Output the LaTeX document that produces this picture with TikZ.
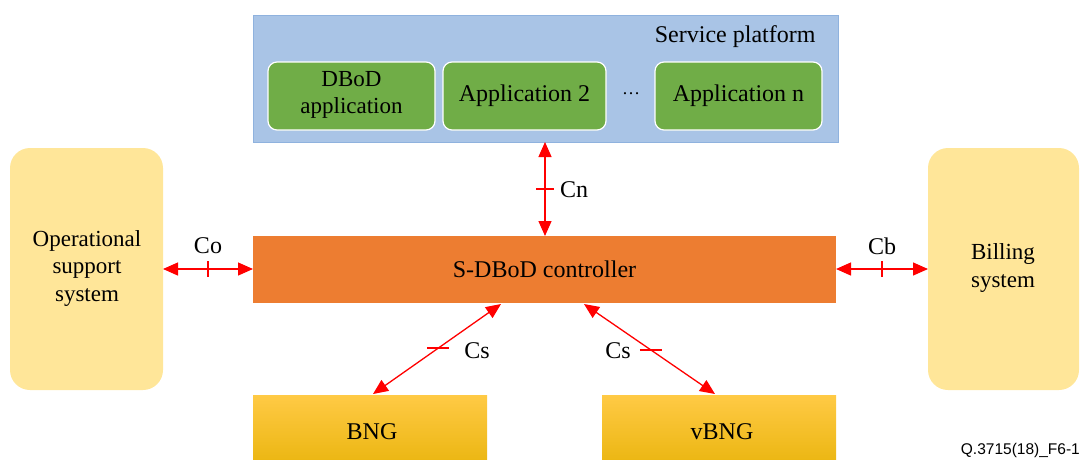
\documentclass[tikz,border=0pt]{standalone}
\usepackage{fontspec}
\setmainfont{Liberation Serif}
\usetikzlibrary{arrows.meta,calc}
\definecolor{spfill}{HTML}{A9C4E6}
\definecolor{spdraw}{HTML}{8FB2DE}
\definecolor{appgreen}{HTML}{70AD47}
\definecolor{ctrlorange}{HTML}{ED7D31}
\definecolor{sideyellow}{HTML}{FFE699}
\definecolor{bngtop}{HTML}{FFCA45}
\definecolor{bngbot}{HTML}{E9B40C}
\definecolor{linkred}{HTML}{FF0000}
\tikzset{
  x=1pt,y=-1pt,
  txt/.style={font=\fontsize{24}{28}\selectfont, align=center, text=black},
  appbox/.style={draw=white, line width=1.2pt, fill=appgreen, rounded corners=9pt, inner sep=0pt},
  sidebox/.style={fill=sideyellow, rounded corners=20pt, inner sep=0pt},
  bngbox/.style={top color=bngtop, bottom color=bngbot, inner sep=0pt},
  link/.style={draw=linkred, line width=1.3pt, {Triangle[length=15pt,width=13pt]}-{Triangle[length=15pt,width=13pt]}},
  tick/.style={draw=linkred, line width=1.3pt},
}
\begin{document}
\begin{tikzpicture}
\useasboundingbox (0,0) rectangle (1081,459);
% service platform
\draw[draw=spdraw, fill=spfill, line width=1pt] (253,15) rectangle (838,142);
\coordinate (spS) at (545,142);
\node[txt, anchor=east] (sptitle) at (819,37) {Service platform};
\path[appbox] (268,62) rectangle (435,130);
\node[txt, font=\fontsize{23}{26.5}\selectfont] (app1) at (351.5,95) {DBoD\\application};
\path[appbox] (443,62) rectangle (606,130);
\node[txt] (app2) at (524.5,96) {Application 2};
\node[txt] (dots) at (631,94) {\fontsize{18}{20}\selectfont\ldots};
\path[appbox] (655,62) rectangle (822,130);
\node[txt] (appn) at (738.5,96) {Application n};
% controller
\fill[ctrlorange] (253,236) rectangle (836,303);
\node[txt] (ctrl) at (544.5,269.5) {S-DBoD controller};
\coordinate (ctrlN) at (545,236);
\coordinate (ctrlW) at (253,269);
\coordinate (ctrlE) at (836,269);
\coordinate (ctrlSL) at (501,304);
\coordinate (ctrlSR) at (584,304);
% side boxes
\path[sidebox] (10,148) rectangle (163,390);
\node[txt, align=center, font=\fontsize{23}{27.5}\selectfont] (oss) at (87,268) {Operational\\support\\system};
\coordinate (ossE) at (163,269);
\path[sidebox] (928,148) rectangle (1079,390);
\node[txt, font=\fontsize{23}{27.5}\selectfont] (bill) at (1003,268) {Billing\\system};
\coordinate (billW) at (928,269);
% BNG boxes
\path[bngbox] (253,395) rectangle (487,470);
\node[txt] (bng) at (372,432) {BNG};
\coordinate (bngN) at (373,394);
\path[bngbox] (602,395) rectangle (836,470);
\node[txt] (vbng) at (722,432) {vBNG};
\coordinate (vbngN) at (715,394);
% links
\draw[link] (spS) -- coordinate[pos=0.5] (tn) (ctrlN);
\draw[tick] ($(tn)+(-9,0)$) -- ($(tn)+(9,0)$);
\node[txt] (cn) at (574,190) {Cn};
\draw[link] (ossE) -- coordinate[pos=0.5] (to) (ctrlW);
\draw[tick] ($(to)+(0,-8)$) -- ($(to)+(0,8)$);
\node[txt] (co) at (208,246) {Co};
\draw[link] (ctrlE) -- coordinate[pos=0.5] (tb) (billW);
\draw[tick] ($(tb)+(0,-8)$) -- ($(tb)+(0,8)$);
\node[txt] (cb) at (882,246) {Cb};
\draw[link] (ctrlSL) -- coordinate[pos=0.49] (ts1) (bngN);
\draw[tick] ($(ts1)+(-11,0)$) -- ($(ts1)+(11,0)$);
\node[txt] (cs1) at (477,351) {Cs};
\draw[link] (ctrlSR) -- coordinate[pos=0.51] (ts2) (vbngN);
\draw[tick] ($(ts2)+(-11,0)$) -- ($(ts2)+(11,0)$);
\node[txt] (cs2) at (618,351) {Cs};
% figure id
\node[anchor=base east, inner sep=0pt, font=\fontsize{15.5}{18}\selectfont\fontspec{Liberation Sans}] (fig) at (1080,454) {Q.3715(18)\_F6-1};
\end{tikzpicture}
\end{document}
